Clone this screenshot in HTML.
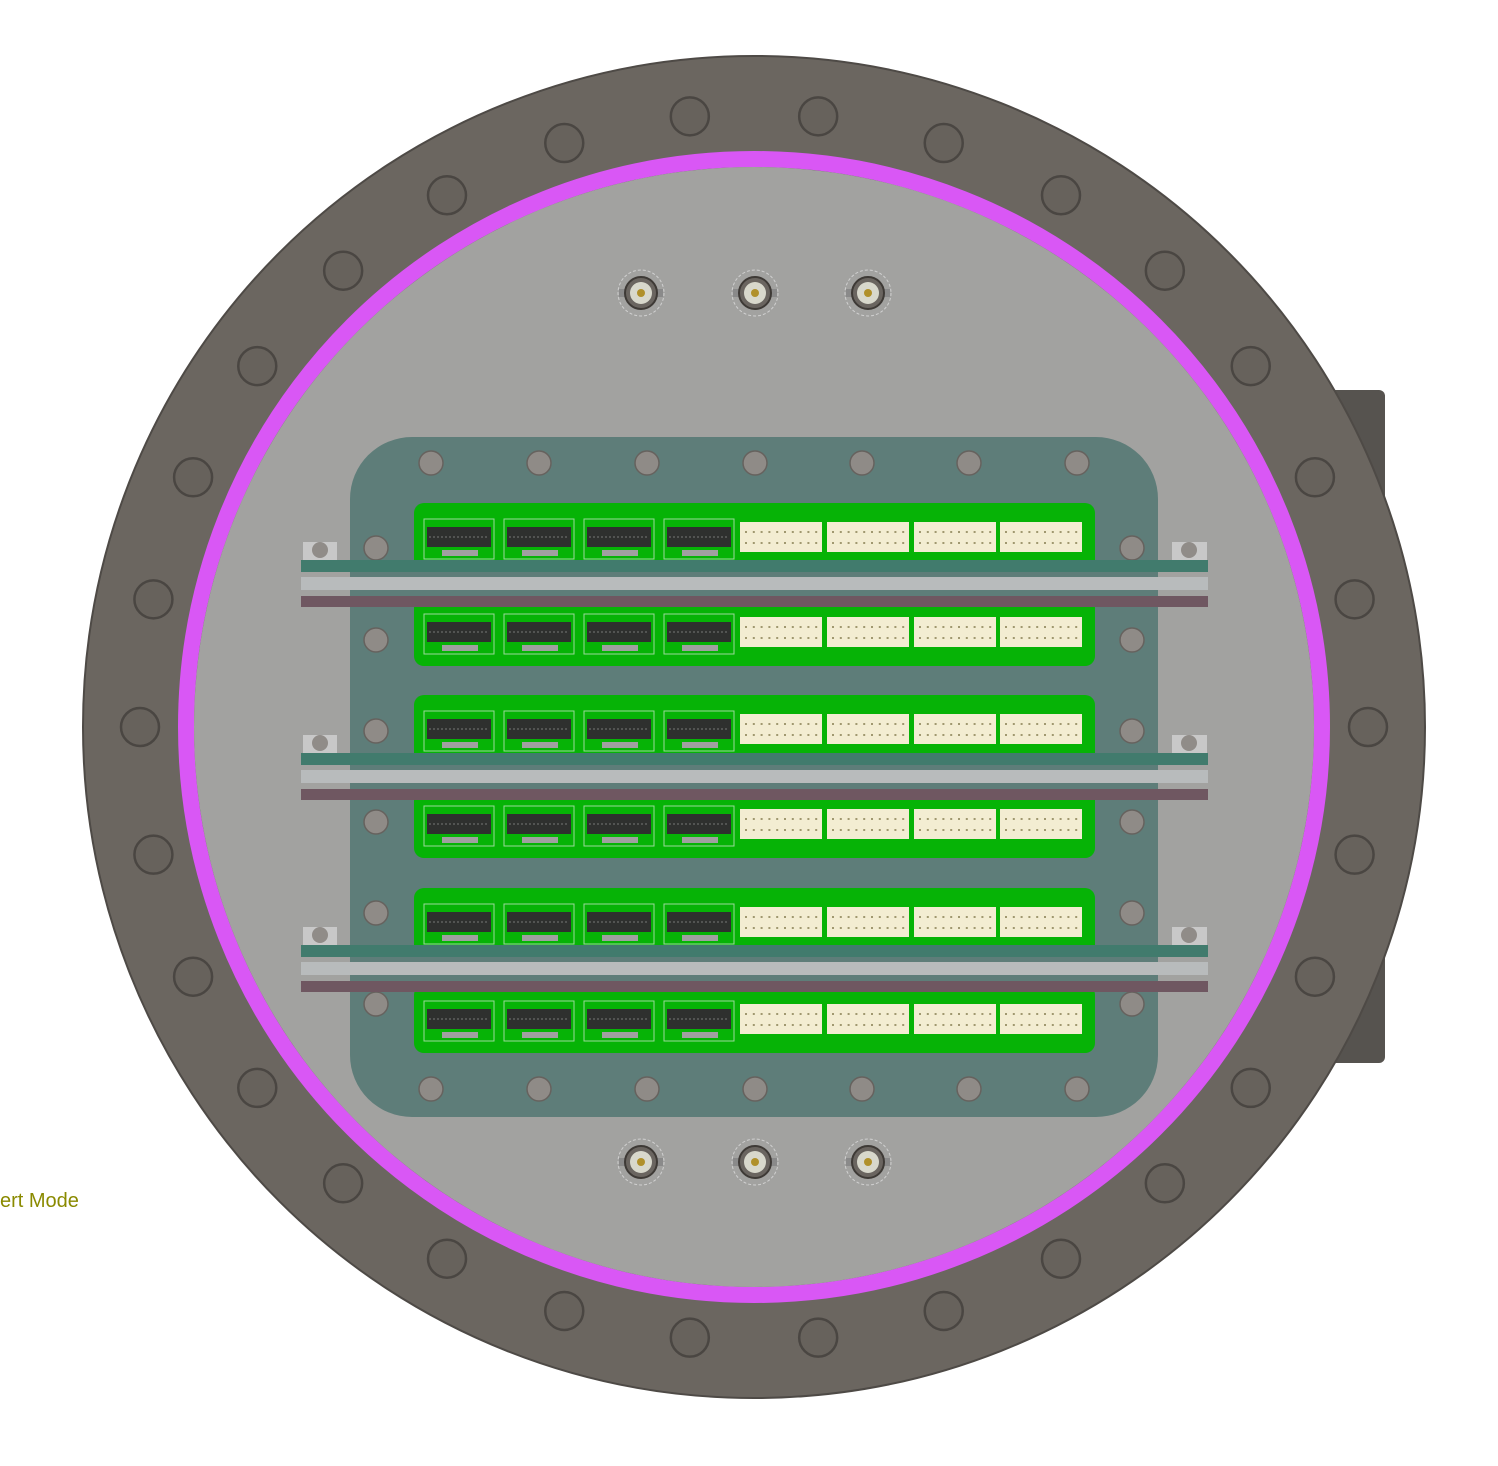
<!DOCTYPE html>
<html><head><meta charset="utf-8"><style>
html,body{margin:0;padding:0;background:#fff;width:1498px;height:1466px;overflow:hidden}
svg{display:block}
.lbl{position:absolute;left:0;top:1190px;font:20px "Liberation Sans",sans-serif;color:#8a8a00}
</style></head><body>
<svg id="s" width="1498" height="1466" viewBox="0 0 1498 1466"></svg>
<div class="lbl">ert Mode</div>
<script>
const CX=754, CY=727;
const boltCount=30;
const plateScrewXs=[431,539,647,755,862,969,1077];
const sideScrewYs=[548,640,731,822,913,1004];
const boardTops=[503,598,695,790,888,985];
const barTops=[560,753,945];
const blackConnX=[424,504,584,664];
const creamConnX=[740,827,914,1000];
const bncX=[641,755,868];
const bncY=[293,1162];
const svg=document.getElementById('s');
const NS='http://www.w3.org/2000/svg';
function mk(tag,a,parent){const e=document.createElementNS(NS,tag);for(const k in a)e.setAttribute(k,a[k]);(parent||svg).appendChild(e);return e;}
let e;
e=mk('rect',{x:1320,y:390,width:65,height:673,rx:6,fill:'#56534f'});


e=mk('circle',{cx:CX,cy:CY,r:671,fill:'#6b6660',stroke:'#4e4a46','stroke-width':2});


for(let i=0;i<boltCount;i++){
  const a=(6+i*12)*Math.PI/180;
  const x=CX+614*Math.sin(a), y=CY-614*Math.cos(a);
  e=mk('circle',{cx:x,cy:y,r:19,fill:'#67625c',stroke:'#4a4642','stroke-width':2.5});
  
  
}
e=mk('circle',{cx:CX,cy:CY,r:568,fill:'none',stroke:'#d957f5','stroke-width':16});


e=mk('circle',{cx:CX,cy:CY,r:560,fill:'#a2a2a0'});


// BNC connectors
bncY.forEach(y=>bncX.forEach(x=>{
  const g=mk('g',{});
  
  
  mk('circle',{cx:x,cy:y,r:23,fill:'none',stroke:'#d0d0d0','stroke-width':1,'stroke-dasharray':'3 2'},g);
  mk('rect',{x:x-22,y:y-4,width:44,height:8,fill:'#8a8a8a'},g);
  mk('circle',{cx:x,cy:y,r:16,fill:'#6a6560',stroke:'#3e3a36','stroke-width':2},g);
  mk('circle',{cx:x,cy:y,r:11,fill:'#d8d8cc'},g);
  mk('circle',{cx:x,cy:y,r:4,fill:'#b0902a'},g);
}));
e=mk('rect',{x:350,y:437,width:808,height:680,rx:62,fill:'#5e7d79'});


function screw(x,y,name){
  e=mk('circle',{cx:x,cy:y,r:12,fill:'#8f8b87',stroke:'#66625e','stroke-width':1.5});
  
  
}
plateScrewXs.forEach(x=>{screw(x,463,'plate-screw-top');screw(x,1089,'plate-screw-bottom');});
sideScrewYs.forEach(y=>{screw(376,y,'plate-screw-left');screw(1132,y,'plate-screw-right');});
boardTops.forEach(t=>{
  const g=mk('g',{});
  
  
  mk('rect',{x:414,y:t,width:681,height:68,rx:10,fill:'#06b306'},g);
  blackConnX.forEach(x=>{
    const c=mk('g',{},g);
    
    
    mk('rect',{x:x,y:t+16,width:70,height:40,fill:'none',stroke:'#9ad89a','stroke-width':1},c);
    mk('rect',{x:x+3,y:t+24,width:64,height:20,fill:'#2e302e'},c);
    mk('line',{x1:x+5,y1:t+34,x2:x+65,y2:t+34,stroke:'#777','stroke-width':1,'stroke-dasharray':'2 2'},c);
    mk('rect',{x:x+18,y:t+47,width:36,height:6,fill:'#a0a0a0'},c);
  });
  creamConnX.forEach(x=>{
    const c=mk('g',{},g);
    
    
    mk('rect',{x:x,y:t+19,width:82,height:30,fill:'#f3edd2'},c);
    for(let k=0;k<10;k++){mk('rect',{x:x+5+k*7.8,y:t+28,width:2,height:2,fill:'#a09870'},c);mk('rect',{x:x+5+k*7.8,y:t+39,width:2,height:2,fill:'#a09870'},c);}
  });
});
barTops.forEach(t=>{
  const g=mk('g',{});
  
  
  mk('rect',{x:303,y:t-18,width:34,height:22,fill:'#c8c8c8'},g);
  mk('rect',{x:1172,y:t-18,width:35,height:22,fill:'#c8c8c8'},g);
  mk('circle',{cx:320,cy:t-10,r:8,fill:'#908c88'},g);
  mk('circle',{cx:1189,cy:t-10,r:8,fill:'#908c88'},g);
  mk('rect',{x:301,y:t,width:907,height:12,fill:'#417b6d'},g);
  mk('rect',{x:301,y:t+17,width:907,height:13,fill:'#b8bbbc'},g);
  mk('rect',{x:301,y:t+36,width:907,height:11,fill:'#6f5761'},g);
});
</script>
</body></html>
